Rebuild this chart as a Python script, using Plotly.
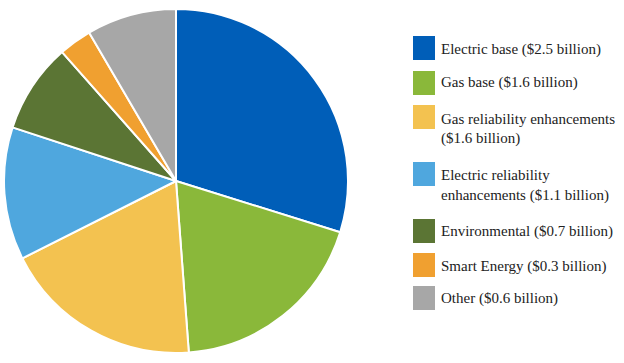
import plotly.graph_objects as go

W, H = 624, 363

categories = ["Electric base", "Gas base", "Gas reliability enhancements",
              "Electric reliability enhancements", "Environmental",
              "Smart Energy", "Other"]
# slice sizes in $ billion (legend labels are rounded)
values = [2.51, 1.60, 1.58, 1.05, 0.71, 0.26, 0.71]
label_values = ["$2.5 billion", "$1.6 billion", "$1.6 billion", "$1.1 billion",
                "$0.7 billion", "$0.3 billion", "$0.6 billion"]
colors = ["#005EB8", "#8AB83A", "#F3C250", "#4FA7DE", "#5B7534", "#F0A030", "#A7A7A7"]

legend_lines = [
    ["Electric base (" + label_values[0] + ")"],
    ["Gas base (" + label_values[1] + ")"],
    ["Gas reliability enhancements", "(" + label_values[2] + ")"],
    ["Electric reliability", "enhancements (" + label_values[3] + ")"],
    ["Environmental (" + label_values[4] + ")"],
    ["Smart Energy (" + label_values[5] + ")"],
    ["Other (" + label_values[6] + ")"],
]

def px(x):
    return x / W

def py(y):
    return 1 - y / H

cx, cy, r = 176, 181, 172

fig = go.Figure(go.Pie(
    labels=categories,
    values=values,
    sort=False,
    direction="clockwise",
    rotation=0,
    textinfo="none",
    hoverinfo="label+value",
    marker=dict(colors=colors, line=dict(color="white", width=2)),
    domain=dict(x=[px(cx - r), px(cx + r)], y=[py(cy + r), py(cy - r)]),
    showlegend=False,
))

sq_tops = [36, 71, 105, 162, 219, 253, 286]
line_ys = [[49], [83], [119, 138], [175, 195], [231], [266], [298]]

shapes = []
annotations = []
for i, col in enumerate(colors):
    t = sq_tops[i]
    shapes.append(dict(type="rect", xref="paper", yref="paper",
                       x0=px(413), x1=px(435), y0=py(t + 24), y1=py(t),
                       fillcolor=col, line=dict(width=0)))
    for j, line in enumerate(legend_lines[i]):
        annotations.append(dict(
            x=px(439), y=py(line_ys[i][j]), xref="paper", yref="paper",
            text=line, showarrow=False, xanchor="left", yanchor="middle",
            font=dict(family="'Liberation Serif', 'Times New Roman', serif", size=15, color="#222222"),
        ))

fig.update_layout(
    width=W, height=H,
    margin=dict(l=0, r=0, t=0, b=0),
    paper_bgcolor="white",
    plot_bgcolor="white",
    shapes=shapes,
    annotations=annotations,
)

fig.write_html("out.html", config={"displayModeBar": False},
               post_script="document.body.style.margin='0';document.body.style.padding='0';")
